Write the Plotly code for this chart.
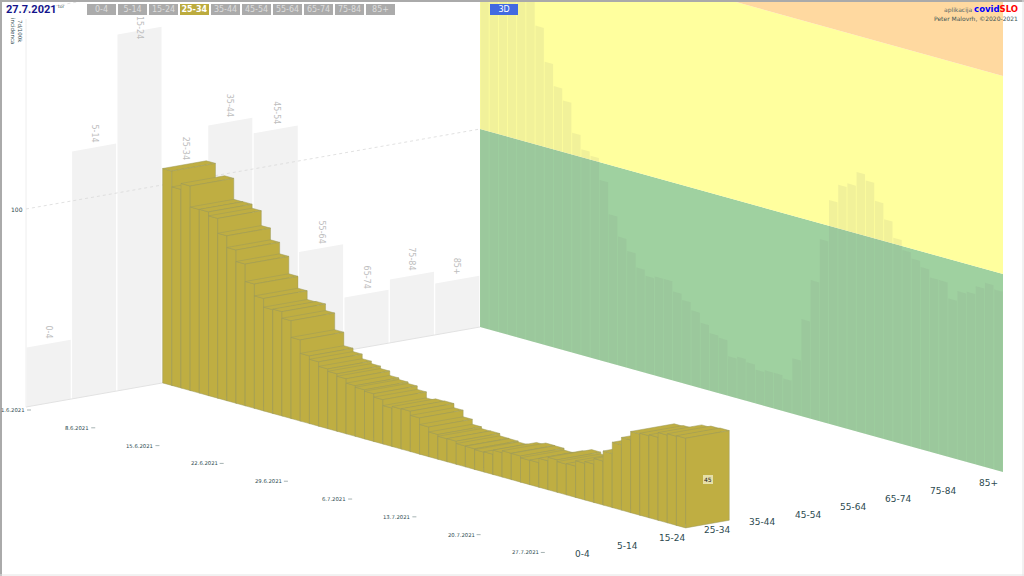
import plotly.graph_objects as go

age_groups = ["0-4","5-14","15-24","25-34","35-44","45-54","55-64","65-74","75-84","85+"]
selected_group = "25-34"
date_ticks = ["1.6.2021","8.6.2021","15.6.2021","22.6.2021","29.6.2021","6.7.2021","13.7.2021","20.7.2021","27.7.2021"]
first_day_by_age = [30,125,180,108,126,118,54,27,32,26]
selected_series = [108.3,100.3,103.3,92.7,92.8,90.8,83.3,77.4,71.6,62.8,56.8,52.4,52.7,49.4,41,34.2,32.5,30.2,29,27.8,
                   25.6,24.8,24.1,22.4,19.4,20.2,20.4,18.3,15,12.5,11.6,11.7,10.5,10.4,10,10.2,12.3,13.3,13.2,12.3,
                   12.4,14.6,16.4,15.5,15.8,18.5,19.4,22.2,27.3,33,36.7,41,41.4,41.9,44.3,45,45.3]
wall_series = [205,200,195,190,185,176,160,143,132,126,111,104,102,91,75,65,59,52,49,50,
               50,45,42,38,33,29,28,20,21,19.5,17,18,18,16.5,28,49,70,92,113,122,
               124,131,128,119,111,103,98,95,92,88,88,80,85,86,90,93,91]
zone_limits = [0,100,200,520]
zone_colors = ["#9fd1a0","#ffff9e","#ffd9a0"]

PX = 1.98
n_days = len(selected_series)
OX,OY = 26,407
UX,UY = 45.4,-8.0
VX,VY = 523/n_days,145/n_days
def P(u,v,val=0):
    return OX+UX*u+VX*v, OY+UY*u+VY*v-val*PX

fig=go.Figure()
def poly(pts,fill,line=None,lw=0.5):
    xs=[p[0] for p in pts]+[pts[0][0]]
    ys=[p[1] for p in pts]+[pts[0][1]]
    fig.add_trace(go.Scatter(x=xs,y=ys,mode="lines",fill="toself",fillcolor=fill,
        line=dict(color=line or "rgba(0,0,0,0)",width=lw if line else 0),hoverinfo="skip",showlegend=False))
def seg(p,q,color,width=1,dash=None):
    fig.add_trace(go.Scatter(x=[p[0],q[0]],y=[p[1],q[1]],mode="lines",
        line=dict(color=color,width=width,dash=dash),hoverinfo="skip",showlegend=False))

for lo,hi,c in zip(zone_limits[:-1],zone_limits[1:],zone_colors):
    poly([P(10,0,lo),P(10,n_days,lo),P(10,n_days,hi),P(10,0,hi)],c)
for i,val in enumerate(wall_series):
    poly([P(10,i+.04),P(10,i+.96),P(10,i+.96,val),P(10,i+.04,val)],"rgba(128,128,128,0.11)")
for i,val in enumerate(first_day_by_age):
    poly([P(i+.015,0),P(i+.985,0),P(i+.985,0,val),P(i+.015,0,val)],"#f2f2f2")
seg(P(0,0),P(10,0),"#e2e2e2",1)
seg(P(0,0),P(0,0,196),"#eeeeee",1)
for lim in (100,200):
    seg(P(0,0,lim),P(10,0,lim),"#d9d9d9",0.8,"3px,3px")
k=age_groups.index(selected_group)
GOLD="#bfae42"; EDGE="#9d9a5c"
uL,uR=k+.01,k+.97
for i,val in enumerate(selected_series):
    poly([P(uL,i),P(uL,i+1),P(uL,i+1,val),P(uL,i,val)],GOLD,EDGE)
    poly([P(uL,i,val),P(uL,i+1,val),P(uR,i+1,val),P(uR,i,val)],GOLD,EDGE)
    poly([P(uL,i+1),P(uR,i+1),P(uR,i+1,val),P(uL,i+1,val)],GOLD,EDGE)

FONT="DejaVu Sans"
ann=[]
def text(x,y,t,size=8,color="#2d4a50",family=FONT,**kw):
    kw.setdefault("borderpad",0); kw.setdefault("borderwidth",0)
    ann.append(dict(x=x,y=y,text=t,showarrow=False,font=dict(family=family,size=size,color=color),**kw))

for i,(g,val) in enumerate(zip(age_groups,first_day_by_age)):
    px,py=P(i+.5,0,val)
    text(px,max(39,py-5),g,size=8,color="#bdbdbd",textangle=90,yanchor="bottom",xanchor="center")
for j,d in enumerate(date_ticks):
    px,py=P(0,j*7)
    seg((px+1,py+3),(px+5,py+3),"#8fa0a0",0.8)
    text(px-1,py+3,d,size=5.3,xanchor="right",yanchor="middle")
for i,g in enumerate(age_groups):
    text(582+i*406/9,554-i*71/9,g,size=9,color="#2d4a50")
px,py=P(0,0,100)
text(px-3,py,"100",size=6,xanchor="right")
val=selected_series[-1]
px,py=P(k+.5,n_days,val/2)
text(px,py,str(int(round(val))),size=6,color="#222222",bgcolor="#e6dfa8",borderpad=1)
text(6,9,"<b>27.7.2021</b>",size=11,color="#14148c",xanchor="left",family="Roboto")
text(58,6,"tor",size=4.5,color="#2d4a50",xanchor="left")
text(17,31,"7d/100k<br>incidenca",size=5.5,textangle=90)
for i,g in enumerate(age_groups):
    sel=g==selected_group
    text(101.5+i*31,9,f"<b>{g}</b>" if sel else g,size=8,color="#ffffff" if sel else "#dcdcdc",
         bgcolor="#bcab3e" if sel else "#ababab",width=29,height=10.5)
text(503.5,9,"3D",size=8,color="#ffffff",bgcolor="#4169e1",width=28,height=10.5)
text(1018,9,'aplikacija <b><span style="color:#0000ff;font-size:8.5px">covid</span><span style="color:#ff0000;font-size:8.5px">SLO</span></b>',
     size=6,color="#556666",xanchor="right")
text(1018,18.5,"Peter Malovrh, ©2020-2021",size=6,color="#3d5555",xanchor="right")

shapes=[
 dict(type="line",xref="x",yref="y",x0=0,x1=1024,y0=1,y1=1,line=dict(color="#aaaaaa",width=2)),
 dict(type="line",xref="x",yref="y",x0=1,x1=1,y0=0,y1=576,line=dict(color="#aaaaaa",width=2)),
 dict(type="line",xref="x",yref="y",x0=0,x1=1024,y0=575,y1=575,line=dict(color="#e4e4e4",width=1)),
 dict(type="line",xref="x",yref="y",x0=1023,x1=1023,y0=0,y1=576,line=dict(color="#e4e4e4",width=1)),
]
fig.update_layout(width=1024,height=576,margin=dict(l=0,r=0,t=0,b=0),paper_bgcolor="white",plot_bgcolor="white",
    xaxis=dict(range=[0,1024],visible=False,fixedrange=True),
    yaxis=dict(range=[576,0],visible=False,fixedrange=True),
    showlegend=False,annotations=ann,shapes=shapes)
fig.write_html("out.html",config=dict(displayModeBar=False),
    post_script="document.body.style.margin='0';document.body.style.overflow='hidden';")
